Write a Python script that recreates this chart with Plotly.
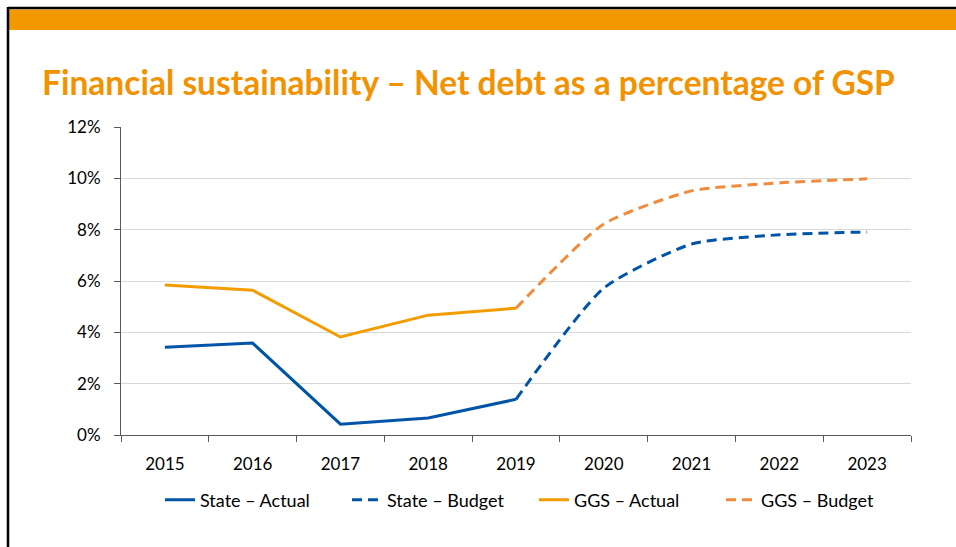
import plotly.graph_objects as go

years = ["2015", "2016", "2017", "2018", "2019", "2020", "2021", "2022", "2023"]
state_actual = [3.42, 3.58, 0.42, 0.66, 1.39, None, None, None, None]
state_budget = [None, None, None, None, 1.39, 5.72, 7.44, 7.80, 7.91]
ggs_actual = [5.84, 5.64, 3.82, 4.67, 4.94, None, None, None, None]
ggs_budget = [None, None, None, None, 4.94, 8.22, 9.51, 9.82, 9.98]
y_ticks = [0, 2, 4, 6, 8, 10, 12]
y_tick_labels = ["0%", "2%", "4%", "6%", "8%", "10%", "12%"]

BLUE = "#0054A6"
ORANGE = "#F39C00"
ORANGE2 = "#F08A3C"
FONT = "Lato"

W, H = 956, 547
L, R, T, B = 121, 45, 127, 112

def px_x(p):
    return (p - L) / (W - L - R)

def px_y(p):
    return (H - B - p) / (H - T - B)

DASH = "10px,6px"

fig = go.Figure()
fig.add_trace(go.Scatter(x=years, y=state_actual, name="State – Actual", mode="lines",
                         line=dict(color=BLUE, width=3)))
fig.add_trace(go.Scatter(x=years, y=state_budget, name="State – Budget", mode="lines",
                         line=dict(color=BLUE, width=3, dash=DASH, shape="spline", smoothing=0.6)))
fig.add_trace(go.Scatter(x=years, y=ggs_actual, name="GGS – Actual", mode="lines",
                         line=dict(color=ORANGE, width=3)))
fig.add_trace(go.Scatter(x=years, y=ggs_budget, name="GGS – Budget", mode="lines",
                         line=dict(color=ORANGE2, width=3, dash=DASH, shape="spline", smoothing=0.6)))

fig.update_layout(
    width=W, height=H,
    margin=dict(l=L, r=R, t=T, b=B),
    paper_bgcolor="white", plot_bgcolor="white",
    font=dict(family=FONT, size=17, color="#000000"),
    title=dict(text="<b>Financial sustainability – Net debt as a percentage of GSP</b>",
               font=dict(family=FONT, size=33.5, color="#F39200"),
               x=0.49, xanchor="center", xref="container",
               y=1 - 83 / H, yanchor="middle", yref="container"),
    showlegend=True,
    legend=dict(orientation="h", x=px_x(160), xanchor="left", y=px_y(500), yanchor="middle",
                font=dict(family=FONT, size=18), itemwidth=30, bgcolor="rgba(0,0,0,0)",
                entrywidth=142, entrywidthmode="pixels"),
    shapes=[
        dict(type="rect", xref="paper", yref="paper", x0=px_x(8), x1=px_x(W + 5),
             y0=px_y(30), y1=px_y(9.5), fillcolor="#F39800", line=dict(width=0), layer="below"),
        dict(type="line", xref="paper", yref="paper", x0=px_x(8), x1=px_x(W + 5),
             y0=px_y(8), y1=px_y(8), line=dict(color="black", width=2.5)),
        dict(type="line", xref="paper", yref="paper", x0=px_x(8), x1=px_x(8),
             y0=px_y(7), y1=px_y(H + 5), line=dict(color="black", width=2.5)),
    ],
)
fig.update_xaxes(type="category", range=[-0.5, len(years) - 0.5], showgrid=False,
                 showline=True, linecolor="#595959", linewidth=1,
                 ticks="outside", tickson="boundaries", ticklen=6, tickcolor="#595959",
                 ticklabelstandoff=14, tickfont=dict(family=FONT, size=17, color="#000"))
fig.update_yaxes(range=[0, 12], tickvals=y_ticks, ticktext=y_tick_labels,
                 showgrid=True, gridcolor="#D9D9D9", gridwidth=1,
                 showline=True, linecolor="#595959", linewidth=1, zeroline=False,
                 ticks="outside", ticklen=6, tickcolor="#595959", ticklabelstandoff=10,
                 tickfont=dict(family=FONT, size=17, color="#000"))

fig.write_html("out.html")
